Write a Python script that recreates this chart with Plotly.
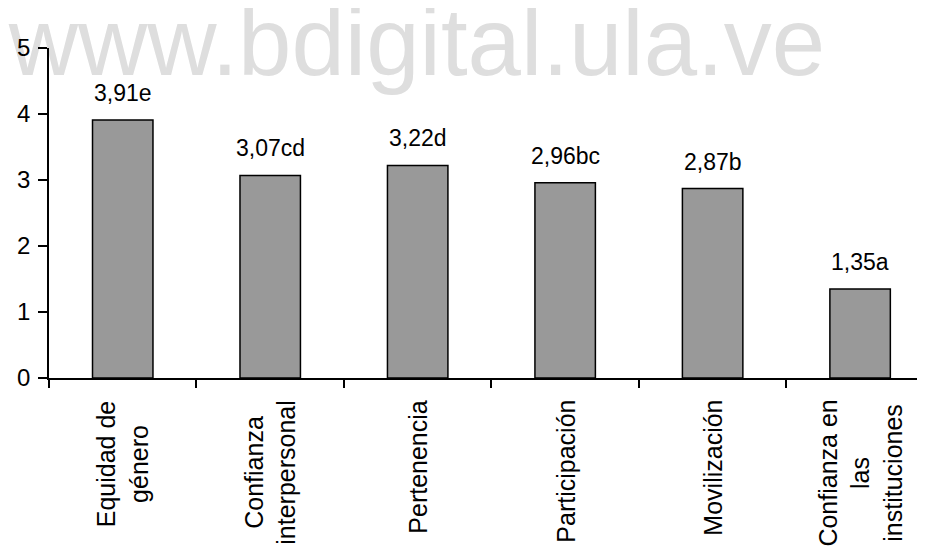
import plotly.graph_objects as go

categories = ["Equidad de<br>género", "Confianza<br>interpersonal", "Pertenencia",
              "Participación", "Movilización", "Confianza en<br>las<br>instituciones"]
values = [3.91, 3.07, 3.22, 2.96, 2.87, 1.35]
value_labels = ["3,91e", "3,07cd", "3,22d", "2,96bc", "2,87b", "1,35a"]
y_ticks = [0, 1, 2, 3, 4, 5]
watermark = "www.bdigital.ula.ve"

FONT = "Liberation Sans, Arial, sans-serif"

fig = go.Figure()

fig.add_trace(go.Bar(
    x=categories, y=values, width=0.41,
    marker=dict(color="#999999", line=dict(color="black", width=1.5)),
    showlegend=False))

# watermark, drawn below the axes
fig.add_shape(type="rect", xref="paper", yref="paper",
              x0=-0.03, x1=0.87, y0=0.897, y1=1.197, layer="below",
              line=dict(width=0), fillcolor="rgba(0,0,0,0)",
              label=dict(text=watermark, textposition="middle center",
                         font=dict(family=FONT, size=96, color="#dedede")))

for c, v, t in zip(categories, values, value_labels):
    fig.add_annotation(x=c, y=v, text=t, showarrow=False, yshift=27,
                       yanchor="middle", font=dict(family=FONT, size=23, color="black"))

# category labels (rotated, centred lines)
for c in categories:
    fig.add_annotation(x=c, xref="x", y=0, yref="paper", yshift=-20,
                       text=c, showarrow=False, textangle=-90, align="center",
                       xanchor="center", yanchor="top",
                       font=dict(family=FONT, size=25, color="black"))

fig.update_layout(
    width=917, height=538,
    margin=dict(l=41, r=0, t=40, b=168),
    plot_bgcolor="white", paper_bgcolor="white",
    font=dict(family=FONT, color="black"),
)
fig.update_xaxes(
    type="category", categoryorder="array", categoryarray=categories,
    range=[-0.5, 5.44],
    showline=True, linecolor="black", linewidth=1.5,
    ticks="outside", tickson="boundaries", ticklen=8, tickwidth=1.5, tickcolor="black",
    showticklabels=False, showgrid=False, zeroline=False,
)
fig.update_yaxes(
    range=[0, 5], tickvals=y_ticks, ticktext=[str(t) for t in y_ticks],
    showline=True, linecolor="black", linewidth=1.5,
    ticks="outside", ticklen=9, tickwidth=1.5, tickcolor="black",
    tickfont=dict(family=FONT, size=24, color="black"),
    ticklabelstandoff=3, showgrid=False, zeroline=False,
)

fig.write_html("out.html")
